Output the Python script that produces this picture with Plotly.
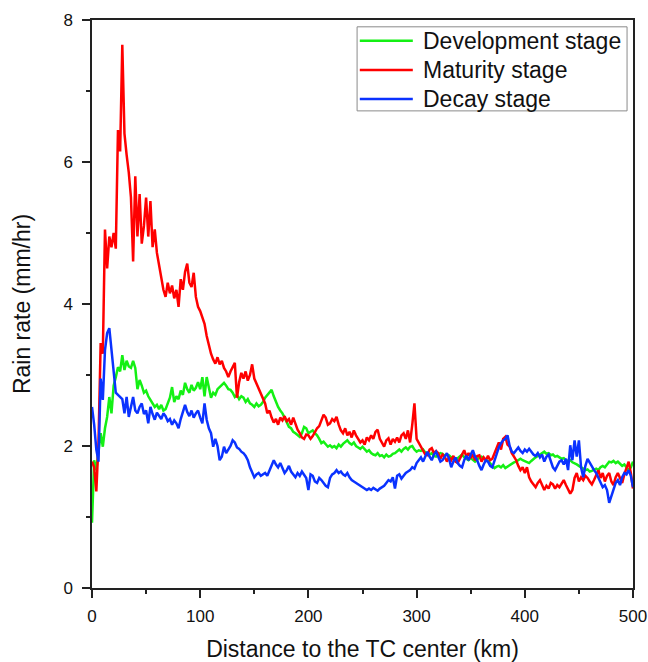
import plotly.graph_objects as go

# Radial distance from the TC center (km), 2 km bins
distance_km = list(range(0, 501, 2))

# Mean rain rate (mm/hr) per distance bin for each life stage
development = [
    0.92, 1.80, 1.66, 1.95, 2.18, 1.99, 2.25, 2.41, 2.69, 2.46,
    2.85, 2.97, 3.11, 3.05, 3.28, 3.07, 3.20, 3.12, 3.10, 3.20,
    3.10, 2.80, 2.93, 2.85, 2.75, 2.78, 2.70, 2.65, 2.60, 2.55,
    2.58, 2.52, 2.58, 2.50, 2.52, 2.60, 2.68, 2.83, 2.62, 2.70,
    2.66, 2.78, 2.72, 2.89, 2.80, 2.75, 2.86, 2.78, 2.82, 2.90,
    2.80, 2.97, 2.70, 2.97, 2.82, 2.68, 2.75, 2.72, 2.80, 2.83,
    2.86, 2.89, 2.85, 2.80, 2.79, 2.75, 2.69, 2.72, 2.66, 2.70,
    2.68, 2.62, 2.66, 2.60, 2.58, 2.55, 2.60, 2.56, 2.58, 2.62,
    2.68, 2.72, 2.76, 2.79, 2.70, 2.62, 2.55, 2.50, 2.46, 2.40,
    2.33, 2.27, 2.25, 2.20, 2.18, 2.15, 2.13, 2.18, 2.27, 2.25,
    2.18, 2.20, 2.22, 2.18, 2.15, 2.10, 2.04, 2.06, 2.02, 1.99,
    2.01, 1.98, 2.00, 1.97, 2.02, 1.99, 2.03, 2.06, 2.08, 2.04,
    2.02, 2.05, 2.00, 1.98, 1.96, 1.99, 1.95, 1.92, 1.94, 1.90,
    1.88, 1.87, 1.90, 1.86, 1.87, 1.84, 1.88, 1.85, 1.86, 1.89,
    1.90, 1.93, 1.95, 1.92, 1.96, 1.98, 1.95, 1.99, 2.00, 1.95,
    1.92, 1.94, 1.93, 1.95, 1.91, 1.90, 1.88, 1.90, 1.86, 1.85,
    1.87, 1.90, 1.89, 1.86, 1.88, 1.87, 1.84, 1.82, 1.80, 1.83,
    1.85, 1.88, 1.84, 1.82, 1.80, 1.83, 1.80, 1.78, 1.81, 1.84,
    1.85, 1.82, 1.80, 1.79, 1.76, 1.72, 1.69, 1.71, 1.72, 1.70,
    1.73, 1.69, 1.71, 1.74, 1.76, 1.77, 1.78, 1.80, 1.82, 1.80,
    1.79, 1.78, 1.76, 1.79, 1.82, 1.84, 1.86, 1.88, 1.90, 1.92,
    1.89, 1.90, 1.87, 1.88, 1.85, 1.86, 1.84, 1.82, 1.83, 1.80,
    1.79, 1.80, 1.77, 1.76, 1.74, 1.72, 1.70, 1.68, 1.66, 1.67,
    1.64, 1.65, 1.66, 1.68, 1.66, 1.70, 1.72, 1.70, 1.74, 1.78,
    1.77, 1.79, 1.76, 1.78, 1.75, 1.72, 1.74, 1.70, 1.66, 1.70,
    1.78,
]

maturity = [
    1.78, 1.70, 1.36, 2.05, 3.45, 3.30, 5.05, 4.50, 4.95, 4.80,
    5.00, 4.78, 6.45, 6.15, 7.65, 6.40, 6.10, 5.85, 5.50, 4.60,
    5.80, 4.95, 5.55, 4.85, 5.10, 5.50, 4.95, 5.45, 4.80, 5.05,
    4.72, 4.55, 4.34, 4.20, 4.10, 4.30, 4.15, 4.26, 4.08, 4.20,
    3.96, 4.35, 4.20, 4.45, 4.57, 4.30, 4.24, 4.44, 4.10, 3.96,
    3.90, 3.80, 3.72, 3.55, 3.40, 3.30, 3.22, 3.16, 3.25, 3.15,
    3.20, 3.10, 3.05, 2.97, 3.05, 3.12, 3.17, 2.68, 2.90, 3.03,
    2.95, 3.05, 2.92, 3.00, 3.15, 2.95, 2.88, 2.83, 2.75, 2.69,
    2.60, 2.46, 2.50, 2.40, 2.33, 2.38, 2.30, 2.40, 2.36, 2.42,
    2.35, 2.38, 2.30, 2.40, 2.32, 2.23, 2.18, 2.12, 2.10, 2.16,
    2.15, 2.10, 2.14, 2.20, 2.25, 2.28, 2.35, 2.44, 2.40, 2.30,
    2.32, 2.38, 2.35, 2.41, 2.30, 2.22, 2.18, 2.25, 2.15, 2.20,
    2.12, 2.22, 2.15, 2.10, 2.05, 2.08, 2.02, 2.12, 2.08, 2.15,
    2.10, 2.20, 2.23, 2.10, 2.05, 1.99, 2.08, 2.11, 2.02, 2.10,
    2.06, 2.12, 2.05, 2.15, 2.18, 2.10, 2.22, 2.05, 2.30, 2.60,
    2.10, 2.05, 2.00, 1.95, 1.88, 1.87, 1.95, 1.97, 1.90, 1.93,
    1.90, 1.82, 1.88, 1.85, 1.78, 1.84, 1.80, 1.86, 1.78, 1.76,
    1.82, 1.88, 1.94, 1.85, 1.90, 1.83, 1.88, 1.80, 1.86, 1.87,
    1.78, 1.84, 1.80, 1.86, 1.80, 1.82, 1.90, 1.98, 2.05, 1.95,
    2.10, 2.13, 2.02, 1.99, 1.90, 1.85, 1.80, 1.72, 1.66, 1.70,
    1.62, 1.70, 1.56, 1.50, 1.45, 1.42, 1.48, 1.52, 1.45, 1.38,
    1.44, 1.40, 1.48, 1.46, 1.40, 1.45, 1.42, 1.48, 1.52, 1.45,
    1.40, 1.33, 1.38, 1.55, 1.62, 1.50, 1.56, 1.52, 1.58, 1.55,
    1.50, 1.46, 1.52, 1.60, 1.66, 1.55, 1.62, 1.50, 1.58, 1.62,
    1.50, 1.45, 1.56, 1.62, 1.55, 1.48, 1.60, 1.70, 1.78, 1.62,
    1.40,
]

decay = [
    2.55, 2.30, 1.95, 1.78, 2.95, 2.65, 3.35, 3.59, 3.66, 3.35,
    2.97, 2.75, 2.72, 2.69, 2.66, 2.46, 2.69, 2.41, 2.55, 2.69,
    2.50, 2.46, 2.55, 2.60, 2.45, 2.50, 2.32, 2.55, 2.45, 2.37,
    2.47, 2.42, 2.38, 2.46, 2.42, 2.35, 2.38, 2.30, 2.36, 2.32,
    2.25, 2.38, 2.48, 2.58, 2.48, 2.42, 2.50, 2.40, 2.46, 2.50,
    2.40, 2.32, 2.60, 2.37, 2.25, 2.18, 1.99, 2.10, 2.00, 1.80,
    1.85, 1.99, 1.90, 1.95, 2.00, 2.08, 2.05, 1.98, 1.96, 1.92,
    1.90, 1.86, 1.80, 1.70, 1.62, 1.56, 1.60, 1.62, 1.58, 1.60,
    1.62, 1.58, 1.66, 1.72, 1.80, 1.74, 1.70, 1.76, 1.68, 1.62,
    1.66, 1.72, 1.64, 1.60, 1.56, 1.62, 1.58, 1.64, 1.60, 1.55,
    1.38, 1.60, 1.58, 1.50, 1.48, 1.55, 1.52, 1.48, 1.44, 1.42,
    1.55, 1.60, 1.62, 1.66, 1.62, 1.64, 1.60, 1.58, 1.62, 1.56,
    1.52, 1.50, 1.48, 1.46, 1.44, 1.42, 1.40, 1.38, 1.40, 1.38,
    1.41, 1.39, 1.37, 1.40, 1.42, 1.44, 1.48, 1.52, 1.50, 1.56,
    1.40, 1.58, 1.60, 1.54, 1.58, 1.62, 1.64, 1.66, 1.70, 1.68,
    1.76, 1.80, 1.84, 1.78, 1.86, 1.92, 1.85, 1.80, 1.88, 1.92,
    1.85, 1.78, 1.80, 1.86, 1.90, 1.82, 1.70, 1.78, 1.84, 1.76,
    1.72, 1.70, 1.80, 1.86, 1.80, 1.88, 1.94, 1.85, 1.80, 1.72,
    1.66, 1.74, 1.80, 1.78, 1.72, 1.70, 1.80, 1.90, 1.98, 2.04,
    2.08, 2.10, 2.15, 2.00, 1.92, 1.90, 1.95, 1.98, 1.93, 1.90,
    1.95, 1.92, 1.96, 1.92, 1.88, 1.86, 1.90, 1.84, 1.88, 1.78,
    1.85, 1.88, 1.80, 1.70, 1.66, 1.72, 1.78, 1.80, 1.74, 1.82,
    1.66, 2.01, 1.80, 2.08, 1.85, 2.08, 1.70, 1.56, 1.72, 1.82,
    1.76, 1.70, 1.66, 1.62, 1.55, 1.48, 1.42, 1.45, 1.38, 1.20,
    1.30, 1.40, 1.48, 1.52, 1.45, 1.56, 1.62, 1.60, 1.66, 1.58,
    1.42,
]

series = [
    ("Development stage", development, "#14f014"),
    ("Maturity stage", maturity, "#ff0000"),
    ("Decay stage", decay, "#0a32ff"),
]

FONT = "Arial, 'Liberation Sans', sans-serif"
INK = "#111111"

fig = go.Figure()
for name, values, color in series:
    fig.add_trace(go.Scatter(
        x=distance_km, y=values, mode="lines", name=name,
        line=dict(color=color, width=2.5), showlegend=False,
    ))

axis_common = dict(
    showline=True, mirror=True, linecolor="#222222", linewidth=1.5,
    ticks="outside", ticklen=8, tickwidth=1.5, tickcolor="#222222",
    showgrid=False, zeroline=False, automargin=False,
    tickfont=dict(family=FONT, size=17, color=INK),
)

fig.update_xaxes(
    range=[0, 500], dtick=100, tick0=0,
    minor=dict(ticks="outside", ticklen=4, tickwidth=1.5, dtick=50, tickcolor="#222222"),
    title=dict(text="Distance to the TC center (km)", font=dict(family=FONT, size=23, color=INK), standoff=22),
    ticklabelstandoff=4,
    **axis_common,
)
fig.update_yaxes(
    range=[0, 8], dtick=2, tick0=0,
    minor=dict(ticks="outside", ticklen=4, tickwidth=1.5, dtick=1, tickcolor="#222222"),
    title=dict(text="Rain rate (mm/hr)", font=dict(family=FONT, size=23, color=INK), standoff=26),
    ticklabelstandoff=6,
    **axis_common,
)

# Legend box drawn in paper coordinates
legend_left, legend_right = 0.490, 0.989
legend_top, legend_bottom = 0.988, 0.840
row_y = [0.9636, 0.912, 0.861]
line_x0, line_x1, text_x = 0.495, 0.593, 0.608

fig.add_shape(type="rect", xref="paper", yref="paper",
              x0=legend_left, x1=legend_right, y0=legend_bottom, y1=legend_top,
              line=dict(color="#8a8a8a", width=1), fillcolor="white", layer="above")
for (name, _, color), ry in zip(series, row_y):
    fig.add_shape(type="line", xref="paper", yref="paper",
                  x0=line_x0, x1=line_x1, y0=ry, y1=ry,
                  line=dict(color=color, width=2.5), layer="above")
    fig.add_annotation(xref="paper", yref="paper", x=text_x, y=ry,
                       text=name, showarrow=False, xanchor="left", yanchor="middle",
                       font=dict(family=FONT, size=23, color=INK))

fig.update_layout(
    width=648, height=662, autosize=False,
    margin=dict(l=92, r=15, t=20, b=74),
    paper_bgcolor="white", plot_bgcolor="white",
    font=dict(family=FONT, color=INK),
    showlegend=False,
)

fig.write_html("out.html")
